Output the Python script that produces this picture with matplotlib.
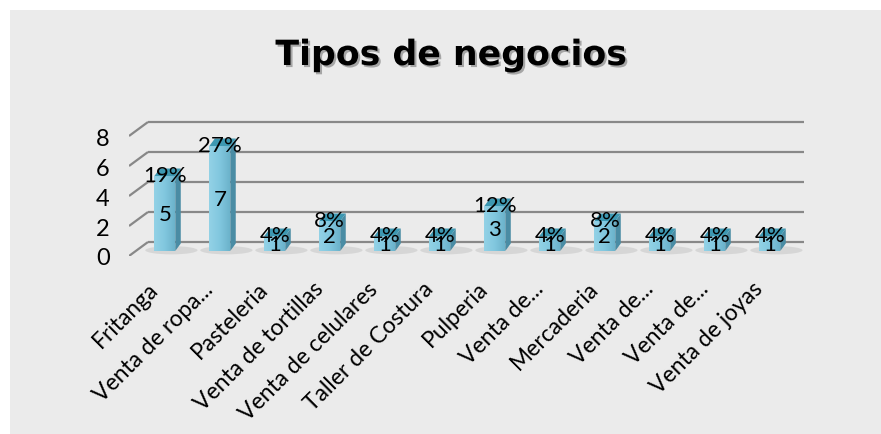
import numpy as np
import matplotlib
matplotlib.use("Agg")
import matplotlib.pyplot as plt
import matplotlib.patheffects as pe
import matplotlib.transforms as mtransforms
from matplotlib.patches import Polygon, Rectangle, Ellipse

categories = ["Fritanga", "Venta de ropa...", "Pasteleria", "Venta de tortillas",
              "Venta de celulares", "Taller de Costura", "Pulperia", "Venta de...",
              "Mercaderia", "Venta de...", "Venta de...", "Venta de joyas"]
counts = [5, 7, 1, 2, 1, 1, 3, 1, 2, 1, 1, 1]
pct_labels = ["19%", "27%", "4%", "8%", "4%", "4%", "12%", "4%", "8%", "4%", "4%", "4%"]
yticks = [0, 2, 4, 6, 8]

FONT = ["Lato", "DejaVu Sans"]
plt.rcParams["font.family"] = FONT

# pseudo-3D geometry (data units)
floor_depth = (0.345, 0.933)   # front floor -> back wall
bar_off = (0.124, 0.333)       # front floor -> bar front face
bar_w = 0.38
bar_depth = (0.1, 0.5)

front_col = "#7fc4dc"
side_col = "#4a8ca4"
top_col = "#3d98b2"
grid_col = "#888888"

fig = plt.figure(figsize=(8.81, 4.35), dpi=100, facecolor="white")
fig.patches.append(Rectangle((10 / 881, 0), 1, 1 - 11 / 435, transform=fig.transFigure,
                             facecolor="#ebebeb", edgecolor="none", zorder=-10))

ax = fig.add_axes([129 / 881, (435 - 257) / 435, (830 - 129) / 881, (257 - 100) / 435])
ax.set_facecolor("none")

x0 = -0.527
x_back_end = 11.75
for k in yticks:
    ax.plot([x0, x0 + floor_depth[0]], [k, k + floor_depth[1]], color=grid_col, lw=1.6,
            solid_capstyle="butt", zorder=1)
    ax.plot([x0 + floor_depth[0], x_back_end], [k + floor_depth[1]] * 2, color=grid_col,
            lw=1.6, solid_capstyle="butt", zorder=1)

grad = np.linspace(0, 1, 64).reshape(1, -1)
cmap = matplotlib.colors.LinearSegmentedColormap.from_list(
    "face", ["#93d2e6", "#82c8df", "#6cb3cb"])

for i, (v, p) in enumerate(zip(counts, pct_labels)):
    cx = i + bar_off[0]
    xl, xr = cx - bar_w / 2, cx + bar_w / 2
    yb, yt = bar_off[1], bar_off[1] + v
    dx, dy = bar_depth
    # soft shadow on the floor
    ax.add_patch(Ellipse((cx + 0.12, yb + 0.05), 0.95, 0.55, facecolor="#9a9a9a",
                         edgecolor="none", alpha=0.25, zorder=2))
    front = Polygon([(xl, yb), (xr, yb), (xr, yt), (xl, yt)], closed=True,
                    facecolor=front_col, edgecolor="none", zorder=3)
    ax.add_patch(front)
    im = ax.imshow(grad, extent=(xl, xr, yb, yt), aspect="auto", cmap=cmap,
                   zorder=3.1, interpolation="bilinear")
    im.set_clip_path(front)
    ax.add_patch(Polygon([(xr, yb), (xr + dx, yb + dy), (xr + dx, yt + dy), (xr, yt)],
                         closed=True, facecolor=side_col, edgecolor="none", zorder=3.2))
    ax.add_patch(Polygon([(xl, yt), (xr, yt), (xr + dx, yt + dy), (xl + dx, yt + dy)],
                         closed=True, facecolor=top_col, edgecolor="none", zorder=3.2))
    ax.text(cx, yb + v / 2, str(v), ha="center", va="center", fontsize=16,
            color="black", zorder=5)
    ax.text(cx, yt + 0.05, p, ha="center", va="center", fontsize=16,
            color="black", zorder=5)

ax.set_xlim(-0.527, 12.218)
ax.set_ylim(0, 10.467)

ax.set_yticks(yticks)
ax.set_yticklabels([str(t) for t in yticks], fontsize=17)
ax.tick_params(axis="y", length=0, pad=14)

# category labels, rotated, right end just below each bar
ax.set_xticks([])
lab_tr = ax.get_xaxis_transform() + mtransforms.ScaledTranslation(-0.10, -0.29,
                                                                   fig.dpi_scale_trans)
for i, name in enumerate(categories):
    ax.text(i + bar_off[0], 0, name, transform=lab_tr, fontsize=16.5, rotation=45,
            ha="right", va="center", rotation_mode="anchor", clip_on=False)

for s in ax.spines.values():
    s.set_visible(False)

fig.text(451 / 881, 1 - 66 / 435, "Tipos de negocios", ha="center", va="baseline",
         fontsize=25, fontweight="bold", color="black", family=["DejaVu Sans"],
         path_effects=[pe.SimplePatchShadow(offset=(1.5, -1.5), shadow_rgbFace="#777777",
                                            alpha=0.6), pe.Normal()])

fig.savefig("out.png", dpi=100, facecolor=fig.get_facecolor())
